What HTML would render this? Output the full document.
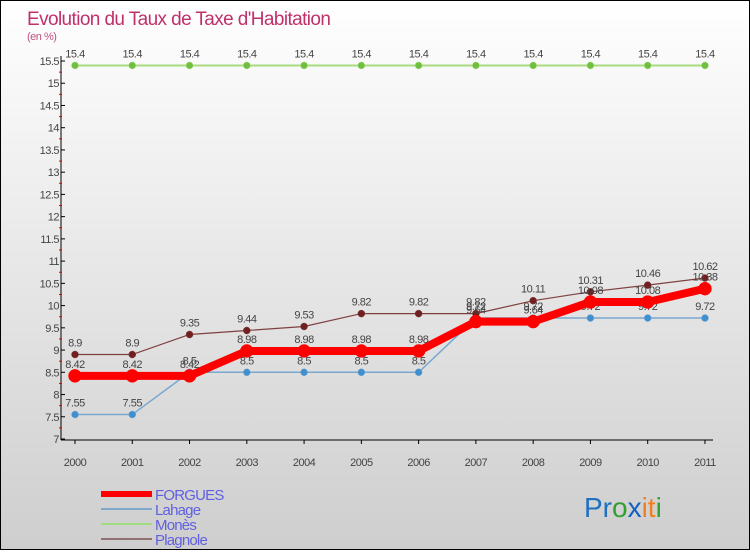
<!DOCTYPE html>
<html><head><meta charset="utf-8"><style>
body{margin:0}
#c{width:748px;height:548px;border:1px solid #000;background:linear-gradient(#ffffff,#cecece);position:relative;font-family:"Liberation Sans",sans-serif}
</style></head><body>
<div id="c">
<svg id="s" width="748" height="548" xmlns="http://www.w3.org/2000/svg"></svg>
</div>
<script>
const years=["2000","2001","2002","2003","2004","2005","2006","2007","2008","2009","2010","2011"];
const forgues=[8.42,8.42,8.42,8.98,8.98,8.98,8.98,9.64,9.64,10.08,10.08,10.38];
const lahage=[7.55,7.55,8.5,8.5,8.5,8.5,8.5,9.72,9.72,9.72,9.72,9.72];
const mones=[15.4,15.4,15.4,15.4,15.4,15.4,15.4,15.4,15.4,15.4,15.4,15.4];
const plagnole=[8.9,8.9,9.35,9.44,9.53,9.82,9.82,9.82,10.11,10.31,10.46,10.62];
const yTicks=[7,7.5,8,8.5,9,9.5,10,10.5,11,11.5,12,12.5,13,13.5,14,14.5,15,15.5];
const NS="http://www.w3.org/2000/svg",s=document.getElementById('s');
const X=i=>74+i*57.27, Y=v=>438-(v-7)*(438-60)/8.5;
function el(t,a,p){const e=document.createElementNS(NS,t);for(const k in a)e.setAttribute(k,a[k]);(p||s).appendChild(e);return e;}
function tx(x,y,str,o,p){const e=el('text',Object.assign({x:x,y:y,'font-size':11,fill:'#444','letter-spacing':'-0.5'},o||{}),p);e.textContent=str;return e;}
let t=tx(26,24,"Evolution du Taux de Taxe d'Habitation",{'font-size':19,fill:'#c0306a','letter-spacing':'-0.6'});


t=tx(26,39,"(en %)",{'font-size':11,fill:'#c05080'});


let ax=el('line',{x1:60,y1:55,x2:60,y2:439,stroke:'#000'});


ax=el('line',{x1:60,y1:439,x2:712,y2:439,stroke:'#000'});


yTicks.forEach(v=>{const y=Y(v);el('line',{x1:60,y1:y,x2:64,y2:y,stroke:'#000'});
 if(v<15.5)el('line',{x1:58,y1:Y(v+0.25),x2:61,y2:Y(v+0.25),stroke:'#d00'});
 const l=tx(58,y+4,String(v),{'text-anchor':'end'});
 
 });
years.forEach((yr,i)=>{el('line',{x1:X(i),y1:439,x2:X(i),y2:443,stroke:'#000'});
 const l=tx(X(i),465,yr,{'text-anchor':'middle'});
 
 });
function series(name,vals,color,w,r,dot){
 const g=el('g',{});
 
 
 el('polyline',{points:vals.map((v,i)=>X(i)+','+Y(v)).join(' '),fill:'none',stroke:color,'stroke-width':w},g);
 vals.forEach((v,i)=>{const c=el('circle',{cx:X(i),cy:Y(v),r:r,fill:dot,stroke:color,'stroke-width':0.5},g);
  
  
  tx(X(i),Y(v)-8,String(v),{'text-anchor':'middle'},g);});
}
series('mones',mones,'#a8dc80',2,3.5,'#70c040');
series('lahage',lahage,'#78a8d0',1.5,3.5,'#4090d0');
series('plagnole',plagnole,'#804040',1.2,3.5,'#702020');
series('forgues',forgues,'#ff0000',8,6.5,'#ff0000');
const leg=[['FORGUES','#ff0000',6],['Lahage','#80a8cc',2],['Monès','#a0dc80',2],['Plagnole','#907070',2]];
leg.forEach((l,i)=>{const y=493+i*15;const g=el('g',{});
 
 
 el('line',{x1:100,y1:y,x2:151,y2:y,stroke:l[1],'stroke-width':l[2]},g);
 tx(154,y+6,l[0],{'font-size':15,fill:'#6060e0','letter-spacing':'-0.8'},g);});
const lg=el('text',{x:583,y:516,'font-size':28,'font-family':'Liberation Sans'});


[['Pr','#2070c0'],['o','#30a030'],['x','#1060c0'],['it','#f08020'],['i','#30a030']].forEach(p=>{const ts=el('tspan',{fill:p[1]},lg);ts.textContent=p[0];});
</script>
</body></html>
